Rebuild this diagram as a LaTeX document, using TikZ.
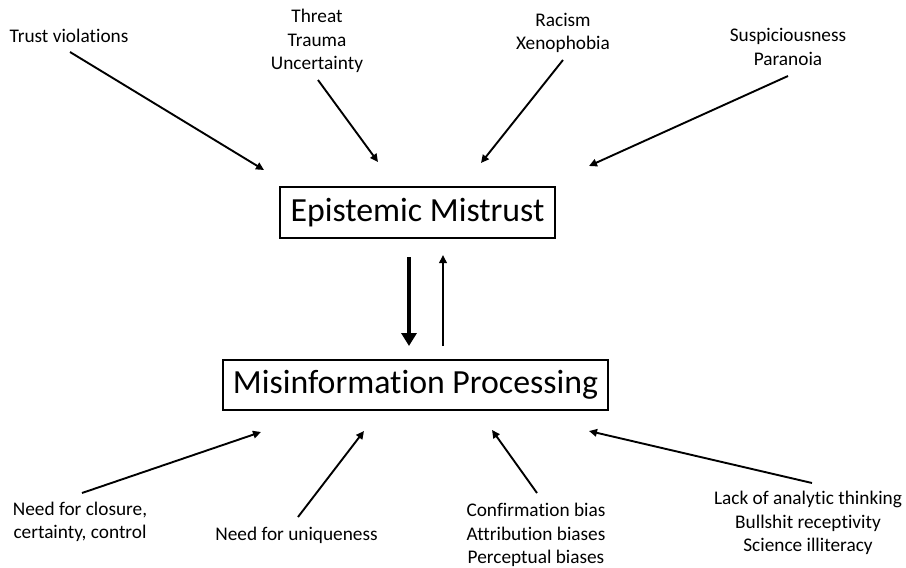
\documentclass[tikz,border=0pt]{standalone}
\usepackage{fontspec}
\setmainfont[Ligatures=NoCommon]{Carlito}
\usetikzlibrary{arrows.meta}
\begin{document}
\begin{tikzpicture}[x=1pt,y=-1pt,
  lbl/.style={align=center,font=\fontsize{19.3}{23.5}\selectfont,inner sep=0pt},
  bigbox/.style={draw,line width=2.5pt,font=\fontsize{33.8}{40}\selectfont,inner sep=0pt},
  thin/.style={line width=1.9pt,-{Triangle[length=8pt,width=7.5pt]}},
  thick/.style={line width=4.8pt,-{Triangle[length=13pt,width=15pt]}}]
\useasboundingbox (0,0) rectangle (906,568);
\node[bigbox,minimum width=275pt,minimum height=51pt] (em) at (417.5,212.5) {Epistemic Mistrust};
\node[bigbox,minimum width=385pt,minimum height=50pt] (mp) at (415.5,385) {Misinformation Processing};
\node[lbl] (tv) at (69,36) {Trust violations};
\node[lbl] (tt) at (317,41) {Threat\\Trauma\\Uncertainty};
\node[lbl] (rx) at (563,33) {Racism\\Xenophobia};
\node[lbl] (sp) at (788,47) {Suspiciousness\\Paranoia};
\node[lbl] (nc) at (80,522) {Need for closure,\\certainty, control};
\node[lbl] (nu) at (296.5,535) {Need for uniqueness};
\node[lbl] (cb) at (536,535) {Confirmation bias\\Attribution biases\\Perceptual biases};
\node[lbl] (la) at (808,523) {Lack of analytic thinking\\Bullshit receptivity\\Science illiteracy};
\coordinate (tvs) at (70,52); \coordinate (tve) at (264,170);
\coordinate (tts) at (318,80); \coordinate (tte) at (378,162);
\coordinate (rxs) at (563,60); \coordinate (rxe) at (481,163);
\coordinate (sps) at (788,76); \coordinate (spe) at (589,166);
\coordinate (ncs) at (82,493); \coordinate (nce) at (261,432);
\coordinate (nus) at (298,517); \coordinate (nue) at (364,431);
\coordinate (cbs) at (537,493); \coordinate (cbe) at (492,430);
\coordinate (las) at (812,483); \coordinate (lae) at (589,431);
\draw[thin] (tvs) -- (tve);
\draw[thin] (tts) -- (tte);
\draw[thin] (rxs) -- (rxe);
\draw[thin] (sps) -- (spe);
\draw[thin] (ncs) -- (nce);
\draw[thin] (nus) -- (nue);
\draw[thin] (cbs) -- (cbe);
\draw[thin] (las) -- (lae);
\coordinate (d1) at (409,257); \coordinate (d2) at (409,346);
\coordinate (u1) at (443,346); \coordinate (u2) at (443,255);
\draw[thick] (d1) -- (d2);
\draw[thin] (u1) -- (u2);
\end{tikzpicture}
\end{document}
